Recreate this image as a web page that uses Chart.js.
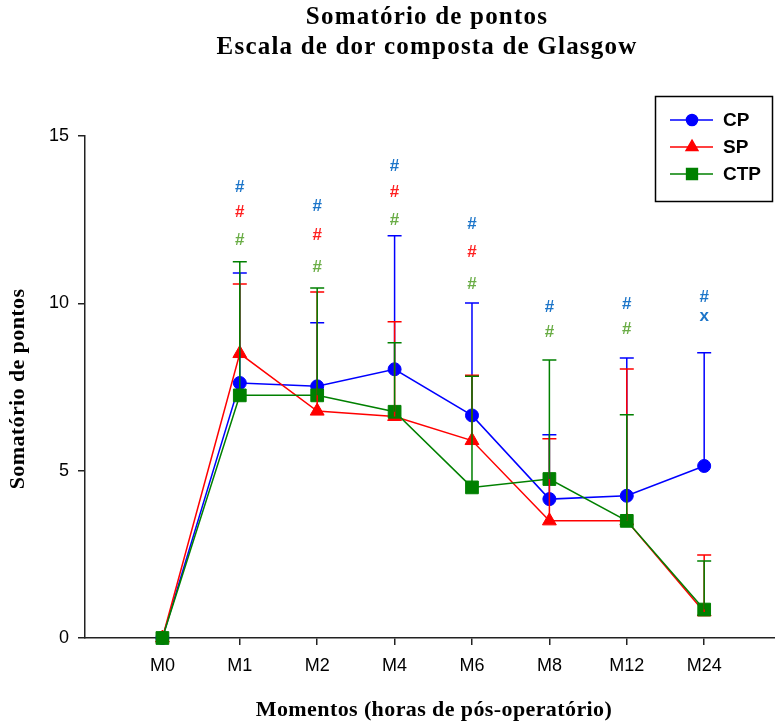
<!DOCTYPE html>
<html>
<head>
<meta charset="utf-8">
<script src="https://cdn.jsdelivr.net/npm/chart.js@4"></script>
<style>
  html, body { margin: 0; padding: 0; background: #fff; }
  #wrap { width: 775px; height: 726px; }
</style>
</head>
<body>
<div id="wrap"><canvas id="chart" width="775" height="726"></canvas></div>
<script>
// categories (moments) and series values
const categories = ["M0", "M1", "M2", "M4", "M6", "M8", "M12", "M24"];

const cpMean  = [0, 7.62, 7.52, 8.03, 6.65, 4.15, 4.25, 5.14];
const spMean  = [0, 8.50, 6.78, 6.62, 5.90, 3.50, 3.50, 0.78];
const ctpMean = [0, 7.25, 7.25, 6.76, 4.50, 4.75, 3.50, 0.85];

// upper end of the error bars
const cpUpper  = [0, 10.91, 9.42, 12.02, 10.01, 6.07, 8.37, 8.52];
const spUpper  = [0, 10.58, 10.34, 9.45, 7.85, 5.95, 8.04, 2.48];
const ctpUpper = [0, 11.24, 10.46, 8.82, 7.82, 8.31, 6.67, 2.30];

// significance marks (y in data units, null = none)
const cpMarkY  = [null, 13.48, 12.91, 14.08, 12.35, 9.87, 9.96, 10.19];
const spMarkY  = [null, 12.71, 12.02, 13.33, 11.51, null, null, null];
const ctpMarkY = [null, 11.87, 11.09, 12.47, 10.58, 9.12, 9.21, null];
const cpXMarkY = [null, null, null, null, null, null, null, 9.60];

const yTicks = [0, 5, 10, 15];

const series = [
  { label: "CP",  mean: cpMean,  upper: cpUpper,  color: "#0000ff", style: "circle",   radius: 6.5 },
  { label: "SP",  mean: spMean,  upper: spUpper,  color: "#ff0000", style: "triangle", radius: 8 },
  { label: "CTP", mean: ctpMean, upper: ctpUpper, color: "#008000", style: "rect",     radius: 9 },
];

const marks = [
  { y: cpMarkY,  text: "#", color: "#1c75c9" },
  { y: spMarkY,  text: "#", color: "#ff2020" },
  { y: ctpMarkY, text: "#", color: "#6aad46" },
  { y: cpXMarkY, text: "x", color: "#1c75c9" },
];

const errorBars = {
  id: "errorBars",
  afterDatasetsDraw(chart) {
    const ctx = chart.ctx;
    const xs = chart.scales.x, ys = chart.scales.y;
    ctx.save();
    ctx.lineWidth = 1.5;
    series.forEach(s => {
      ctx.strokeStyle = s.color;
      s.upper.forEach((u, i) => {
        if (u <= s.mean[i]) return;
        const x = xs.getPixelForValue(i);
        const y1 = ys.getPixelForValue(s.mean[i]);
        const y2 = ys.getPixelForValue(u);
        ctx.beginPath();
        ctx.moveTo(x, y1);
        ctx.lineTo(x, y2);
        ctx.moveTo(x - 7, y2);
        ctx.lineTo(x + 7, y2);
        ctx.stroke();
      });
    });
    ctx.restore();
  }
};

const markText = {
  id: "markText",
  afterDraw(chart) {
    const ctx = chart.ctx;
    const xs = chart.scales.x, ys = chart.scales.y;
    ctx.save();
    ctx.font = "bold 17px 'Liberation Sans', Arial, sans-serif";
    ctx.textAlign = "center";
    ctx.textBaseline = "middle";
    marks.forEach(m => {
      ctx.fillStyle = m.color;
      m.y.forEach((v, i) => {
        if (v == null) return;
        ctx.fillText(m.text, xs.getPixelForValue(i), ys.getPixelForValue(v));
      });
    });
    ctx.restore();
  }
};

const boxLegend = {
  id: "boxLegend",
  afterDraw(chart) {
    const ctx = chart.ctx;
    ctx.save();
    ctx.strokeStyle = "#000";
    ctx.lineWidth = 1.5;
    ctx.strokeRect(655.5, 96.5, 117, 105);
    series.forEach((s, k) => {
      const y = 120 + k * 27;
      ctx.strokeStyle = s.color;
      ctx.lineWidth = 1.5;
      ctx.beginPath();
      ctx.moveTo(670, y);
      ctx.lineTo(713, y);
      ctx.stroke();
      ctx.fillStyle = s.color;
      Chart.helpers.drawPoint(ctx, { pointStyle: s.style, radius: s.radius * 0.85, borderWidth: 1, rotation: 0 }, 692, y);
      ctx.fillStyle = "#000";
      ctx.font = "bold 19px 'Liberation Sans', Arial, sans-serif";
      ctx.textAlign = "left";
      ctx.textBaseline = "middle";
      ctx.fillText(s.label, 723, y + 1);
    });
    ctx.restore();
  }
};

const titles = {
  id: "titles",
  afterDraw(chart) {
    const ctx = chart.ctx;
    ctx.save();
    ctx.fillStyle = "#000";
    ctx.textAlign = "center";
    ctx.textBaseline = "middle";
    ctx.font = "bold 25px 'Liberation Serif', 'Times New Roman', serif";
    ctx.letterSpacing = "1.2px";
    ctx.fillText("Somatório de pontos", 427, 18);
    ctx.fillText("Escala de dor composta de Glasgow", 427, 48);
    ctx.font = "bold 22px 'Liberation Serif', 'Times New Roman', serif";
    ctx.letterSpacing = "0.4px";
    ctx.fillText("Momentos (horas de pós-operatório)", 434, 710);
    ctx.translate(18, 389);
    ctx.rotate(-Math.PI / 2);
    ctx.fillText("Somatório de pontos", 0, 0);
    ctx.restore();
  }
};

const ctx = document.getElementById("chart").getContext("2d");
new Chart(ctx, {
  type: "line",
  data: {
    datasets: series.map((s, k) => ({
      label: s.label,
      data: categories.map((c, i) => ({ x: i, y: s.mean[i] })),
      borderColor: s.color,
      backgroundColor: s.color,
      borderWidth: 1.5,
      pointStyle: s.style,
      pointRadius: s.radius,
      pointBorderWidth: 1,
      tension: 0,
      fill: false,
      clip: false,
      order: 2 - k,
    })),
  },
  options: {
    responsive: false,
    animation: false,
    layout: { autoPadding: false, padding: { top: 136, left: 0, right: 0, bottom: 0 } },
    plugins: {
      legend: { display: false },
      title: { display: false },
      tooltip: { enabled: false },
    },
    scales: {
      x: {
        type: "linear",
        min: -1,
        max: 7.915,
        afterBuildTicks: scale => { scale.ticks = categories.map((c, i) => ({ value: i })); },
        afterFit: scale => { scale.height = 88; },
        grid: { drawOnChartArea: false, drawTicks: true, tickLength: 7, color: "#222", lineWidth: 1.5 },
        border: { display: true, color: "#222", width: 1.5 },
        ticks: {
          color: "#000",
          padding: 10,
          font: { family: "'Liberation Sans', Arial, sans-serif", size: 18 },
          callback: v => categories[v],
        },
      },
      y: {
        min: 0,
        max: 15,
        afterBuildTicks: scale => { scale.ticks = yTicks.map(v => ({ value: v })); },
        afterFit: scale => { scale.width = 85; },
        grid: { drawOnChartArea: false, drawTicks: true, tickLength: 7, color: "#222", lineWidth: 1.5 },
        border: { display: true, color: "#222", width: 1.5 },
        ticks: {
          color: "#000",
          padding: 9,
          font: { family: "'Liberation Sans', Arial, sans-serif", size: 18 },
        },
      },
    },
  },
  plugins: [errorBars, markText, boxLegend, titles],
});
</script>
</body>
</html>
